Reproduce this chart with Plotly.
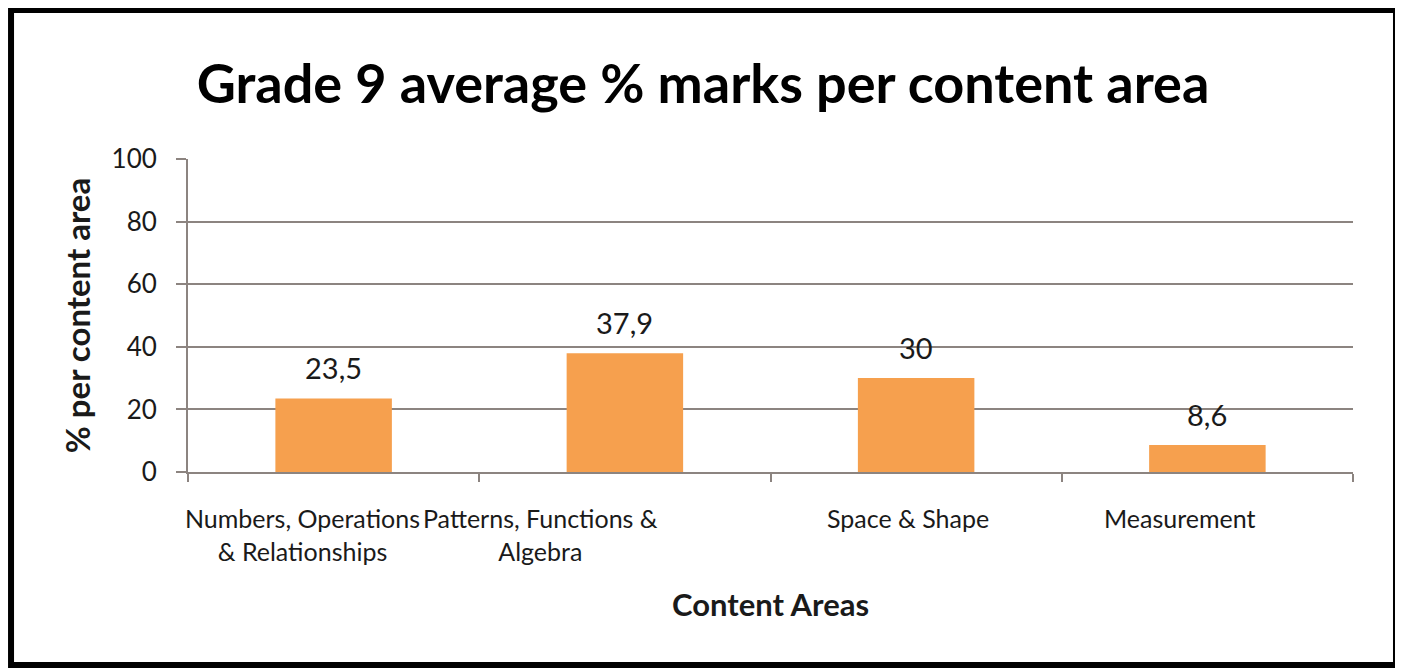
import plotly.graph_objects as go

# data
areas = ["Numbers, Operations<br>& Relationships", "Patterns, Functions &<br>Algebra",
         "Space & Shape", "Measurement"]
avg_marks = [23.5, 37.9, 30, 8.6]
y_ticks = [0, 20, 40, 60, 80, 100]

# the category labels in the original sit a little left of their slots
label_shift = [-31, -84, -8, -27]

bar_color = "#F6A04E"
line_color = "#8C8480"
text_color = "#1a1a1a"
font_family = "Lato, Open Sans, sans-serif"

fig = go.Figure(go.Bar(
    x=areas, y=avg_marks,
    marker=dict(color=bar_color, line=dict(width=0)),
    hoverinfo="skip",
))

# data labels (comma decimals, sitting well above each bar)
for a, v in zip(areas, avg_marks):
    fig.add_annotation(
        x=a, y=v, text=f"{v:g}".replace(".", ","), showarrow=False,
        yshift=31, font=dict(size=29, color=text_color, family=font_family),
    )

# category labels as annotations so they can be nudged like the original
for a, dx in zip(areas, label_shift):
    fig.add_annotation(
        x=a, y=0, yref="paper", text=a, showarrow=False,
        xanchor="center", yanchor="top", xshift=dx, yshift=-29,
        font=dict(size=25, color=text_color, family=font_family),
    )

fig.add_annotation(
    x=0.5, y=0, xref="paper", yref="paper", text="<b>Content Areas</b>",
    showarrow=False, yanchor="middle", yshift=-132,
    font=dict(size=31, color=text_color, family=font_family),
)

# heavy black frame round the whole chart
fig.add_shape(type="rect", xref="paper", yref="paper",
              x0=-0.1519, x1=1.0369, y0=-0.6166, y1=1.476,
              line=dict(color="black", width=6))

# page body has an 8px margin, so the figure is sized/offset to match
fig.update_layout(
    width=1395, height=660,
    paper_bgcolor="white", plot_bgcolor="white",
    margin=dict(l=180, r=50, t=151, b=196),
    bargap=0.6,
    showlegend=False,
    font=dict(family=font_family, color=text_color, size=25),
    title=dict(text="<b>Grade 9 average % marks per content area</b>",
               x=(703 - 8) / 1395, xref="container", xanchor="center",
               y=1 - (84 - 8) / 660, yanchor="middle",
               font=dict(size=54, color="black", family=font_family)),
    xaxis=dict(
        range=[-0.5, len(areas) - 0.5],
        showline=True, linecolor=line_color, linewidth=2,
        ticks="outside", tickson="boundaries", ticklen=8, tickcolor=line_color, tickwidth=2,
        showticklabels=False, showgrid=False,
    ),
    yaxis=dict(
        range=[0, 100], tickvals=y_ticks,
        showline=True, linecolor=line_color, linewidth=2,
        ticks="outside", ticklen=10, tickcolor=line_color, tickwidth=2,
        showgrid=True, gridcolor=line_color, gridwidth=2,
        zeroline=False, tickfont=dict(size=26), ticklabelstandoff=14,
        title=dict(text="<b>% per content area</b>", font=dict(size=33), standoff=11),
    ),
)

fig.write_html("out.html")
